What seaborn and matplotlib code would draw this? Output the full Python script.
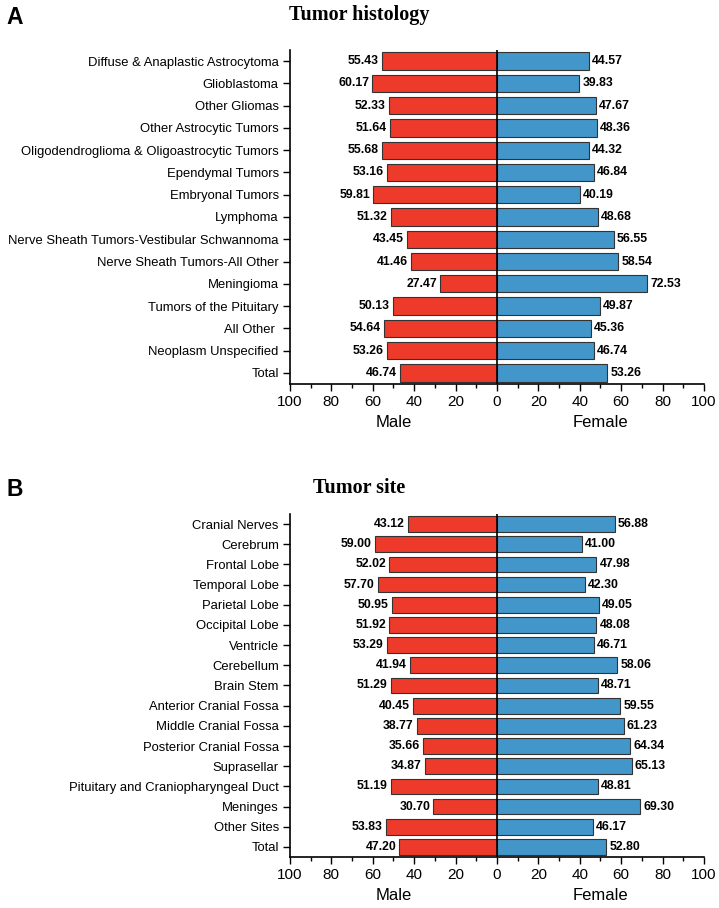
import numpy as np
import pandas as pd
import matplotlib
matplotlib.use("Agg")
import matplotlib.pyplot as plt
from matplotlib.ticker import MultipleLocator, FuncFormatter
import seaborn as sns

sns.set_style("ticks")
plt.rcParams['font.family'] = ['Liberation Sans', 'DejaVu Sans']
plt.rcParams['text.color'] = 'black'
plt.rcParams['xtick.color'] = 'black'
plt.rcParams['ytick.color'] = 'black'
plt.rcParams['axes.edgecolor'] = 'black'

# Panel A: tumor histology
histologia = ['Diffuse & Anaplastic Astrocytoma', 'Glioblastoma', 'Other Gliomas',
              'Other Astrocytic Tumors', 'Oligodendroglioma & Oligoastrocytic Tumors',
              'Ependymal Tumors', 'Embryonal Tumors', 'Lymphoma',
              'Nerve Sheath Tumors-Vestibular Schwannoma', 'Nerve Sheath Tumors-All Other',
              'Meningioma', 'Tumors of the Pituitary', 'All Other ', 'Neoplasm Unspecified', 'Total']
hist_male = [55.43, 60.17, 52.33, 51.64, 55.68, 53.16, 59.81, 51.32, 43.45, 41.46,
             27.47, 50.13, 54.64, 53.26, 46.74]
hist_female = [44.57, 39.83, 47.67, 48.36, 44.32, 46.84, 40.19, 48.68, 56.55, 58.54,
               72.53, 49.87, 45.36, 46.74, 53.26]

# Panel B: tumor site
sitios = ['Cranial Nerves', 'Cerebrum', 'Frontal Lobe', 'Temporal Lobe', 'Parietal Lobe',
          'Occipital Lobe', 'Ventricle', 'Cerebellum', 'Brain Stem', 'Anterior Cranial Fossa',
          'Middle Cranial Fossa', 'Posterior Cranial Fossa', 'Suprasellar',
          'Pituitary and Craniopharyngeal Duct', 'Meninges', 'Other Sites', 'Total']
site_male = [43.12, 59.00, 52.02, 57.70, 50.95, 51.92, 53.29, 41.94, 51.29, 40.45,
             38.77, 35.66, 34.87, 51.19, 30.70, 53.83, 47.20]
site_female = [56.88, 41.00, 47.98, 42.30, 49.05, 48.08, 46.71, 58.06, 48.71, 59.55,
               61.23, 64.34, 65.13, 48.81, 69.30, 46.17, 52.80]

rojo = '#EE3A2B'
azul = '#4396C9'


def piramide(ax, cats, male, female):
    df = pd.DataFrame({'cat': cats, 'male': [-v for v in male], 'female': female})
    sns.barplot(data=df, x='male', y='cat', color=rojo, orient='h', width=0.78,
                edgecolor='#333333', linewidth=0.8, saturation=1, ax=ax)
    sns.barplot(data=df, x='female', y='cat', color=azul, orient='h', width=0.78,
                edgecolor='#333333', linewidth=0.8, saturation=1, ax=ax)
    ax.axvline(0, color='black', lw=1.2)
    ax.set_xlim(-100, 100)
    ax.set_ylim(len(cats) - 0.5, -0.5)
    ax.xaxis.set_major_locator(MultipleLocator(20))
    ax.xaxis.set_minor_locator(MultipleLocator(10))
    ax.xaxis.set_major_formatter(FuncFormatter(lambda v, p: f'{abs(v):.0f}'))
    ax.tick_params(axis='x', which='major', length=5, width=1, labelsize=11, pad=3)
    ax.tick_params(axis='x', which='minor', length=3, width=1)
    ax.tick_params(axis='y', length=5, width=1, labelsize=9.4, pad=3)
    for s in ['top', 'right']:
        ax.spines[s].set_visible(False)
    for s in ['left', 'bottom']:
        ax.spines[s].set_linewidth(1.2)
    ax.set_ylabel('')
    ax.set_xlabel('')
    for i, (m, f) in enumerate(zip(male, female)):
        ax.text(-m - 1.5, i, f'{m:.2f}', ha='right', va='center', fontsize=8.8, fontweight='bold')
        ax.text(f + 1.5, i, f'{f:.2f}', ha='left', va='center', fontsize=8.8, fontweight='bold')
    for xf, lab in [(0.25, 'Male'), (0.75, 'Female')]:
        ax.annotate(lab, xy=(xf, 0), xycoords='axes fraction', xytext=(0, -28),
                    textcoords='offset points', ha='center', va='center', fontsize=12)


fig = plt.figure(figsize=(7.19, 9.08), dpi=100)
ax1 = fig.add_axes([0.4033, 1 - 384 / 908, 0.5758, 334 / 908])
ax2 = fig.add_axes([0.4033, 1 - 857 / 908, 0.5758, 343 / 908])

piramide(ax1, histologia, hist_male, hist_female)
piramide(ax2, sitios, site_male, site_female)

fig.text(0.5, 1 - 15 / 908, 'Tumor histology', ha='center', va='center', fontsize=14.5,
         fontweight='bold', family=['Liberation Serif', 'DejaVu Serif'])
fig.text(0.5, 1 - 488 / 908, 'Tumor site', ha='center', va='center', fontsize=14.5,
         fontweight='bold', family=['Liberation Serif', 'DejaVu Serif'])
fig.text(6 / 719, 1 - 17 / 908, 'A', ha='left', va='center', fontsize=16.5, fontweight='bold')
fig.text(6 / 719, 1 - 490 / 908, 'B', ha='left', va='center', fontsize=16.5, fontweight='bold')

fig.savefig('out.png', dpi=100)
